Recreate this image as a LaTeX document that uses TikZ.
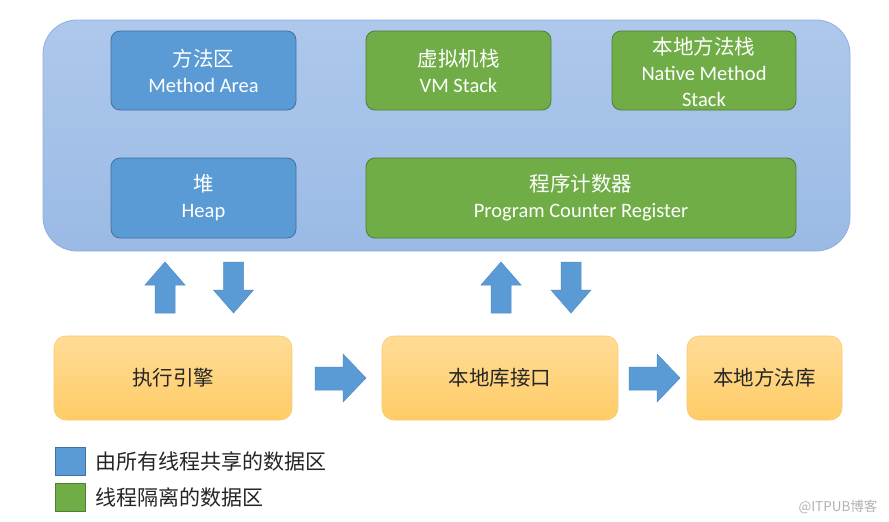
\documentclass[tikz,border=0pt]{standalone}
\usepackage{fontspec}
\setmainfont{Carlito}
\newfontfamily\cjk{Noto Sans CJK SC}
\begin{document}
\begin{tikzpicture}[x=1pt,y=-1pt,
  blueblk/.style={draw=blueborder,fill=blueA,line width=0.8pt,rounded corners=9pt},
  greenblk/.style={draw=greenborder,fill=greenA,line width=0.8pt,rounded corners=9pt},
  orangeblk/.style={draw=orangeborder,top color=orangeT,bottom color=orangeB,line width=0.6pt,rounded corners=12pt},
  boxtext/.style={text=white,align=center,font=\fontsize{20.5}{26}\selectfont},
  lowtext/.style={text=black!85,font=\fontsize{20.5}{24}\selectfont\cjk},
  barrow/.style={draw=arrowborder,fill=blueA,line width=0.5pt},
  legtext/.style={anchor=west,text=black!85,font=\fontsize{21}{24}\selectfont\cjk},
]
\definecolor{blueA}{HTML}{5B9BD5}
\definecolor{blueborder}{HTML}{41719C}
\definecolor{greenA}{HTML}{70AD47}
\definecolor{greenborder}{HTML}{507E32}
\definecolor{orangeT}{HTML}{FFDC96}
\definecolor{orangeB}{HTML}{FFCC66}
\definecolor{orangeborder}{HTML}{F8C870}
\definecolor{contT}{HTML}{AEC8EC}
\definecolor{contB}{HTML}{9ABAE5}
\definecolor{contborder}{HTML}{8FB0DE}
\definecolor{arrowborder}{HTML}{4F8CC6}
\useasboundingbox[fill=white] (0,0) rectangle (889,522);

% container
\draw[draw=contborder,top color=contT,bottom color=contB,line width=0.8pt,rounded corners=34pt]
  (43,20) rectangle (850,251);

% top row
\draw[blueblk] (111,31) rectangle (296,110);
\node[boxtext] (ma) at (203.5,71) {{\cjk 方法区}\\Method Area};
\draw[greenblk] (366,31) rectangle (551,110);
\node[boxtext] (vm) at (458.5,71) {{\cjk 虚拟机栈}\\VM Stack};
\draw[greenblk] (612,31) rectangle (796,110);
\node[boxtext] (nms) at (704,72) {{\cjk 本地方法栈}\\Native Method\\Stack};

% second row
\draw[blueblk] (111,158) rectangle (296,238);
\node[boxtext] (heap) at (203.5,198) {{\cjk 堆}\\Heap};
\draw[greenblk] (366,158) rectangle (796,238);
\node[boxtext] (pc) at (581,198) {{\cjk 程序计数器}\\Program Counter Register};

% bottom row
\draw[orangeblk] (54,336) rectangle (292,420);
\node[lowtext] (exec) at (173,378) {执行引擎};
\draw[orangeblk] (382,336) rectangle (618,420);
\node[lowtext] (nif) at (500,378) {本地库接口};
\draw[orangeblk] (687,336) rectangle (842,420);
\node[lowtext] (nlib) at (764.5,378) {本地方法库};

% block arrows
\newcommand\upArr[1]{\draw[barrow] (#1-10,313) -- (#1-10,285) -- (#1-20,285) -- (#1,262) -- (#1+20,285) -- (#1+10,285) -- (#1+10,313) -- cycle;}
\newcommand\downArr[1]{\draw[barrow] (#1-10,262) -- (#1-10,290) -- (#1-20,290) -- (#1,313) -- (#1+20,290) -- (#1+10,290) -- (#1+10,262) -- cycle;}
\newcommand\rightArr[1]{\draw[barrow] (#1,367) -- (#1+28,367) -- (#1+28,354) -- (#1+51,378) -- (#1+28,402) -- (#1+28,390) -- (#1,390) -- cycle;}
\upArr{165}
\downArr{233.5}
\upArr{501}
\downArr{571}
\rightArr{315}
\rightArr{629}

% legend
\draw[draw=blueborder,fill=blueA,line width=0.5pt] (55,447) rectangle (85,475);
\node[legtext] (l1) at (92,461) {由所有线程共享的数据区};
\draw[draw=greenborder,fill=greenA,line width=0.5pt] (55,483) rectangle (85,511);
\node[legtext] (l2) at (92,497) {线程隔离的数据区};

\node[anchor=east,text=black!30,font=\fontsize{13.5}{15}\selectfont\cjk] (wm) at (881,507) {@ITPUB博客};
\end{tikzpicture}
\end{document}
